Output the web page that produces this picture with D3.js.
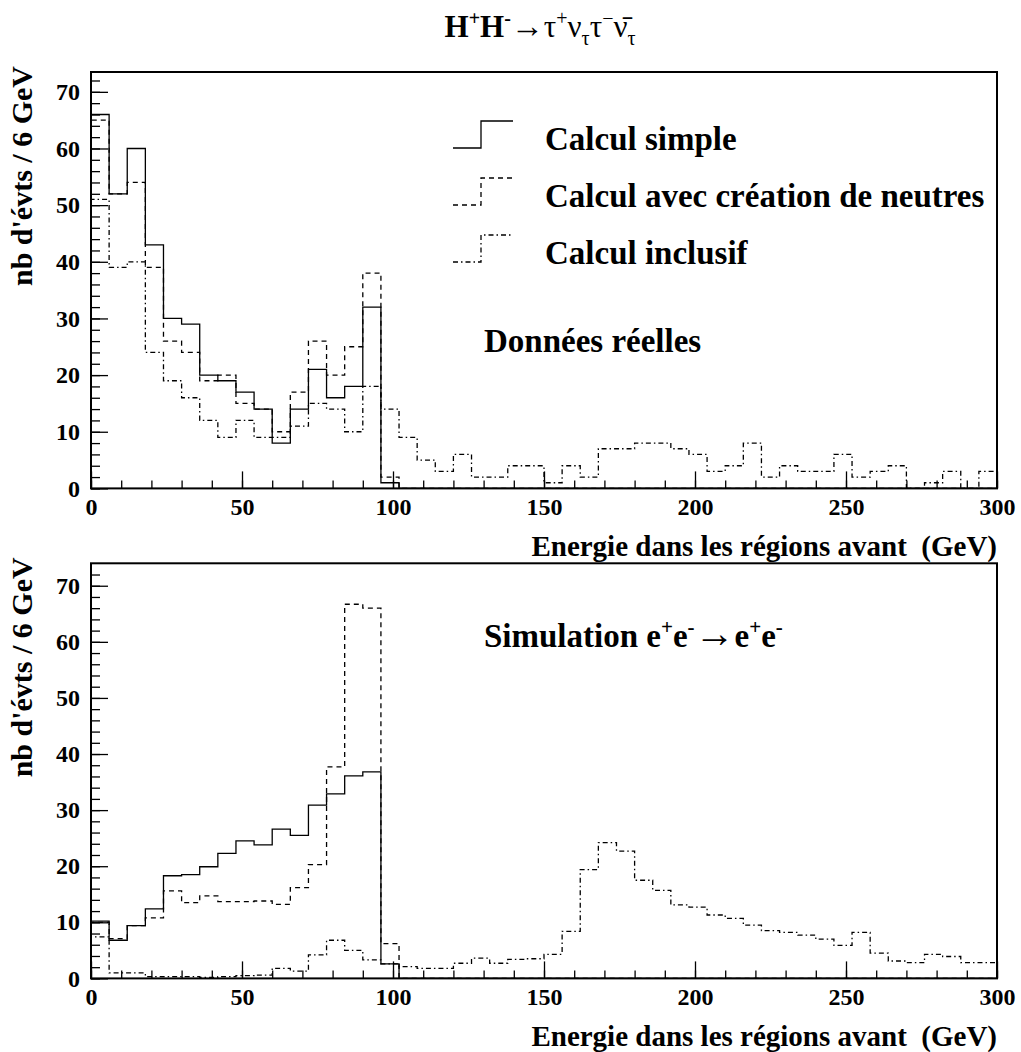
<!DOCTYPE html>
<html><head><meta charset="utf-8">
<script src="https://cdn.jsdelivr.net/npm/d3@7"></script>
<style>
body{margin:0;background:#fff}
svg text{font-family:"Liberation Serif","Times New Roman",serif;font-weight:bold;fill:#000}
</style>
</head><body>
<svg id="c" width="1021" height="1052"></svg>
<script>
// ---- data (50 bins of 6 GeV from 0 to 300 GeV) ----
const binLow = d3.range(0, 300, 6);
const xTickMajor = [0, 50, 100, 150, 200, 250, 300];
const yTickMajor = [0, 10, 20, 30, 40, 50, 60, 70];

const topSimple = [66,52,60,43,30,29,20,19,17,14,8,14,21,16,18,32,1,0,0,0,
  0,0,0,0,0,0,0,0,0,0,0,0,0,0,0,0,0,0,0,0,0,0,0,0,0,0,0,0,0,0];
const topNeutres = [65,52,54,39,26,24,19,20,15,14,10,17,26,20,25,38,2,0,0,0,
  0,0,0,0,0,0,0,0,0,0,0,0,0,0,0,0,0,0,0,0,0,0,0,0,0,0,0,0,0,0];
const topInclusif = [51,39,40,24,19,16,12,9,12,9,9,11,15,14,10,18,14,9,5,3,
  6,2,2,4,4,1,4,2,7,7,8,8,7,6,3,4,8,2,4,3,3,6,2,3,4,0,1,3,0,3];

const botSimple = [10.2,6.8,9.4,12.4,18.3,18.5,19.9,22.3,24.5,23.8,26.6,25.5,30.9,32.9,36.1,36.8,2.6,0,0,0,
  0,0,0,0,0,0,0,0,0,0,0,0,0,0,0,0,0,0,0,0,0,0,0,0,0,0,0,0,0,0];
const botNeutres = [10,7.1,9.4,10.8,15.6,13.5,14.7,13.7,13.7,13.8,13.2,16.2,20.3,37.7,66.7,66.0,6.2,0,0,0,
  0,0,0,0,0,0,0,0,0,0,0,0,0,0,0,0,0,0,0,0,0,0,0,0,0,0,0,0,0,0];
const botInclusif = [7.4,1.0,1.0,0.3,0.3,0.3,0.2,0.3,0.5,0.6,1.8,1.3,4.2,6.8,5.0,3.3,2.6,2.1,1.8,1.8,
  2.7,3.6,2.7,3.4,3.5,4.3,8.4,19.4,24.2,22.7,17.5,15.7,13.1,12.7,11.3,10.7,9.5,8.5,8.2,7.7,
  7.0,5.9,8.2,4.5,3.1,2.8,4.3,3.9,2.8,2.8];

const seriesNames = ["Calcul simple", "Calcul avec création de neutres", "Calcul inclusif"];
const dashes = [null, "5,4", "5,3,1.5,3"];

// ---- layout ----
const svg = d3.select("#c");
const X0 = 91, X1 = 997;
const x = d3.scaleLinear().domain([0, 300]).range([X0, X1]);

function panel(top, bottom, ymax, series) {
  const y = d3.scaleLinear().domain([0, ymax]).range([bottom, top]);
  const g = svg.append("g");

  series.forEach((vals, si) => {
    let d = `M${x(0)},${y(0)}`;
    vals.forEach((v, i) => { d += `V${y(v)}H${x(binLow[i] + 6)}`; });
    d += `V${y(0)}`;
    g.append("path").attr("d", d).attr("fill", "none").attr("stroke", "#000")
      .attr("stroke-width", 1.3).attr("stroke-dasharray", dashes[si]);
  });

  const xMinor = d3.axisBottom(x).tickValues(d3.range(0, 301, 10)).tickSizeInner(-8).tickSizeOuter(0).tickFormat("");
  const xMajor = d3.axisBottom(x).tickValues(xTickMajor).tickSizeInner(-17).tickSizeOuter(0).tickPadding(10).tickFormat(d3.format("d"));
  const gx1 = g.append("g").attr("transform", `translate(0,${bottom})`).call(xMinor);
  const gx2 = g.append("g").attr("transform", `translate(0,${bottom})`).call(xMajor);
  [gx1, gx2].forEach(a => { a.select(".domain").remove(); a.selectAll("line").attr("stroke", "#000").attr("stroke-width", 1.3); });
  gx2.selectAll("text").attr("font-size", 24).attr("font-family", null);

  const yMinor = d3.axisLeft(y).tickValues(d3.range(0, ymax, 2)).tickSizeInner(-9).tickSizeOuter(0).tickFormat("");
  const yMajor = d3.axisLeft(y).tickValues(yTickMajor).tickSizeInner(-17).tickSizeOuter(0).tickPadding(11).tickFormat(d3.format("d"));
  const gy1 = g.append("g").attr("transform", `translate(${X0},0)`).call(yMinor);
  const gy2 = g.append("g").attr("transform", `translate(${X0},0)`).call(yMajor);
  [gy1, gy2].forEach(a => { a.select(".domain").remove(); a.selectAll("line").attr("stroke", "#000").attr("stroke-width", 1.3); });
  gy2.selectAll("text").attr("font-size", 24).attr("font-family", null);

  g.append("rect").attr("x", X0).attr("y", top).attr("width", X1 - X0).attr("height", bottom - top)
    .attr("fill", "none").attr("stroke", "#000").attr("stroke-width", 2);

  g.append("text").attr("x", X1).attr("y", bottom + 68).attr("text-anchor", "end")
    .attr("font-size", 29).style("white-space", "pre").text("Energie dans les régions avant  (GeV)");
  g.append("text").attr("transform", `translate(32,${top - 6}) rotate(-90)`).attr("text-anchor", "end")
    .attr("font-size", 30).text("nb d'évts / 6 GeV");
  return {g, y};
}

const P1 = panel(72, 488.4, 73.5, [topSimple, topNeutres, topInclusif]);
const P2 = panel(563.3, 978.4, 74.0, [botSimple, botNeutres, botInclusif]);

// legend
const legY = [150, 207, 264];
legY.forEach((ly, i) => {
  P1.g.append("path").attr("d", `M453,${ly - 2}H481V${ly - 29}H513`).attr("fill", "none")
    .attr("stroke", "#000").attr("stroke-width", 1.3).attr("stroke-dasharray", dashes[i]);
  P1.g.append("text").attr("x", 545).attr("y", ly).attr("font-size", 33).text(seriesNames[i]);
});

P1.g.append("text").attr("x", 484).attr("y", 352).attr("font-size", 33).text("Données réelles");

const sim = P2.g.append("text").attr("x", 484).attr("y", 647).attr("font-size", 33);
const simParts = [
  ["Simulation e", 0, 33, "bold"], ["+", -13, 21, "bold"], ["e", 13, 33, "bold"], ["-", -13, 21, "bold"],
  ["→", 13, 40, "normal"], ["e", 0, 33, "bold"], ["+", -13, 21, "bold"], ["e", 13, 33, "bold"], ["-", -13, 21, "bold"]
];
simParts.forEach(p => sim.append("tspan").attr("dy", p[1]).attr("font-size", p[2]).attr("font-weight", p[3]).text(p[0]));

const t = svg.append("text").attr("x", 540).attr("y", 37).attr("text-anchor", "middle").attr("font-size", 31);
const parts = [
  ["H", 0, 31, "bold"], ["+", -12, 20, "bold"], ["H", 12, 31, "bold"], ["-", -12, 20, "bold"],
  ["→", 12, 33, "normal"], ["τ", 0, 31, "normal"], ["+", -12, 20, "normal"], ["ν", 12, 31, "normal"], ["τ", 8, 20, "normal"],
  ["τ", -8, 31, "normal"], ["−", -12, 20, "normal"], ["ν\u0304", 12, 31, "normal"], ["τ", 8, 20, "normal"]
];
parts.forEach(p => t.append("tspan").attr("dy", p[1]).attr("font-size", p[2]).attr("font-weight", p[3]).text(p[0]));
</script>
</body></html>
